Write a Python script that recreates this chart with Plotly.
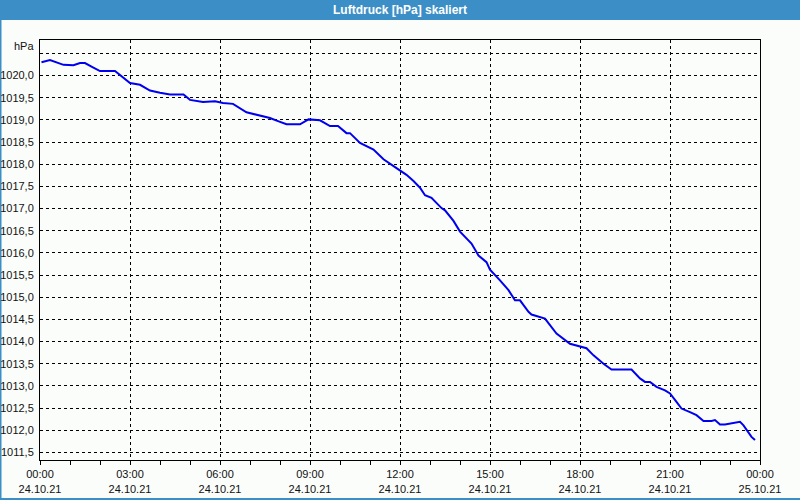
import plotly.graph_objects as go

# Data (time of day on 24.10.21, pressure in hPa)
times = ["00:03", "00:20", "00:47", "01:07", "01:20", "01:30", "01:43", "02:00", "02:30",
         "03:00", "03:20", "03:40", "04:00", "04:20", "04:47", "05:00", "05:26", "05:50",
         "06:06", "06:26", "06:53", "07:20", "07:40", "07:56", "08:13", "08:40", "08:57",
         "09:20", "09:40", "09:56", "10:13", "10:20", "10:40", "11:07", "11:27", "11:53",
         "12:13", "12:27", "12:40", "12:50", "13:03", "13:23", "13:30", "13:47", "14:00",
         "14:23", "14:37", "14:53", "15:00", "15:20", "15:37", "15:50", "16:00", "16:17",
         "16:23", "16:50", "17:13", "17:40", "18:00", "18:13", "18:27", "18:47", "19:03",
         "19:43", "20:00", "20:10", "20:20", "20:33", "20:50", "21:00", "21:13", "21:23",
         "21:40", "21:53", "22:07", "22:23", "22:30", "22:40", "22:50", "23:03", "23:20",
         "23:27", "23:37", "23:43", "23:50"]
pressure = [1020.30, 1020.35, 1020.24, 1020.23, 1020.28, 1020.28, 1020.20, 1020.10, 1020.10,
            1019.83, 1019.79, 1019.66, 1019.61, 1019.57, 1019.57, 1019.45, 1019.40, 1019.42,
            1019.38, 1019.36, 1019.17, 1019.10, 1019.04, 1018.97, 1018.90, 1018.90, 1019.01,
            1018.99, 1018.86, 1018.86, 1018.70, 1018.70, 1018.48, 1018.33, 1018.11, 1017.91,
            1017.76, 1017.62, 1017.47, 1017.30, 1017.24, 1017.01, 1016.96, 1016.72, 1016.48,
            1016.21, 1015.94, 1015.79, 1015.62, 1015.38, 1015.16, 1014.93, 1014.93, 1014.67,
            1014.61, 1014.52, 1014.18, 1013.95, 1013.88, 1013.85, 1013.69, 1013.50, 1013.37,
            1013.37, 1013.17, 1013.09, 1013.09, 1012.98, 1012.90, 1012.83, 1012.64, 1012.49,
            1012.41, 1012.34, 1012.21, 1012.21, 1012.23, 1012.13, 1012.13, 1012.16, 1012.19,
            1012.11, 1011.96, 1011.85, 1011.78]

x_tick_vals = ["2021-10-24 00:00", "2021-10-24 03:00", "2021-10-24 06:00", "2021-10-24 09:00",
               "2021-10-24 12:00", "2021-10-24 15:00", "2021-10-24 18:00", "2021-10-24 21:00",
               "2021-10-25 00:00"]
x_tick_text = ["00:00<br>24.10.21", "03:00<br>24.10.21", "06:00<br>24.10.21",
               "09:00<br>24.10.21", "12:00<br>24.10.21", "15:00<br>24.10.21",
               "18:00<br>24.10.21", "21:00<br>24.10.21", "00:00<br>25.10.21"]
y_tick_vals = [1011.5, 1012.0, 1012.5, 1013.0, 1013.5, 1014.0, 1014.5, 1015.0, 1015.5,
               1016.0, 1016.5, 1017.0, 1017.5, 1018.0, 1018.5, 1019.0, 1019.5, 1020.0, 1020.5]
y_tick_text = ["1011,5", "1012,0", "1012,5", "1013,0", "1013,5", "1014,0", "1014,5",
               "1015,0", "1015,5", "1016,0", "1016,5", "1017,0", "1017,5", "1018,0",
               "1018,5", "1019,0", "1019,5", "1020,0", ""]

title_text = "Luftdruck [hPa] skaliert"
unit_text = "hPa"

x_dt = ["2021-10-24 " + t for t in times]

BLUE_BAR = "#3c8fc6"
BG = "#fbfdfb"
FONT = "Liberation Sans"

fig = go.Figure()
fig.add_trace(go.Scatter(x=x_dt, y=pressure, mode="lines",
                         line=dict(color="#0000ee", width=2), hoverinfo="skip"))

# paper coordinates for the full 800x500 image (plot area 40..760 x 40..460)
px0, px1 = -40 / 720, 760 / 720 + 40 / 720
py0, py1 = -40 / 420, 460 / 420

fig.update_layout(
    width=800, height=500,
    margin=dict(l=40, r=40, t=40, b=40, autoexpand=False),
    paper_bgcolor=BG, plot_bgcolor=BG,
    showlegend=False,
    font=dict(family=FONT, size=11, color="#111111"),
    shapes=[
        dict(type="rect", xref="paper", yref="paper", x0=px0, x1=px1,
             y0=(460 - 20) / 420, y1=py1, fillcolor=BLUE_BAR, line=dict(width=0), layer="below"),
        dict(type="rect", xref="paper", yref="paper", x0=px0 + 0.5 / 720, x1=px1 - 1 / 720,
             y0=py0 + 1 / 420, y1=py1, fillcolor="rgba(0,0,0,0)",
             line=dict(color=BLUE_BAR, width=2), layer="below"),
    ],
    annotations=[
        dict(text="<b>" + title_text + "</b>", xref="paper", yref="paper",
             x=0.5, y=(460 - 10) / 420, xanchor="center", yanchor="middle",
             showarrow=False, font=dict(family=FONT, size=12, color="white")),
        dict(text=unit_text, xref="paper", yref="paper", x=-4 / 720, y=(460 - 46) / 420,
             xanchor="right", yanchor="middle", showarrow=False,
             font=dict(family=FONT, size=11, color="#111111")),
    ],
)

fig.update_xaxes(
    type="date", automargin=False,
    range=["2021-10-24 00:00", "2021-10-25 00:00"],
    tickmode="array", tickvals=x_tick_vals, ticktext=x_tick_text,
    ticks="outside", ticklen=4, tickcolor="black",
    minor=dict(dtick=3600000, ticks="outside", ticklen=4, tickcolor="black", showgrid=False),
    showgrid=True, gridcolor="black", gridwidth=1, griddash="3px,3px",
    showline=True, linecolor="black", linewidth=1, mirror=True,
    zeroline=False, tickfont=dict(family=FONT, size=11, color="#111111"),
)
fig.update_yaxes(
    automargin=False,
    range=[1011.33, 1020.80],
    tickmode="array", tickvals=y_tick_vals, ticktext=y_tick_text,
    ticks="", ticklabelstandoff=3,
    showgrid=True, gridcolor="black", gridwidth=1, griddash="3px,3px",
    showline=True, linecolor="black", linewidth=1, mirror=True,
    zeroline=False, tickfont=dict(family=FONT, size=11, color="#111111"),
)

fig.write_html("out.html")
